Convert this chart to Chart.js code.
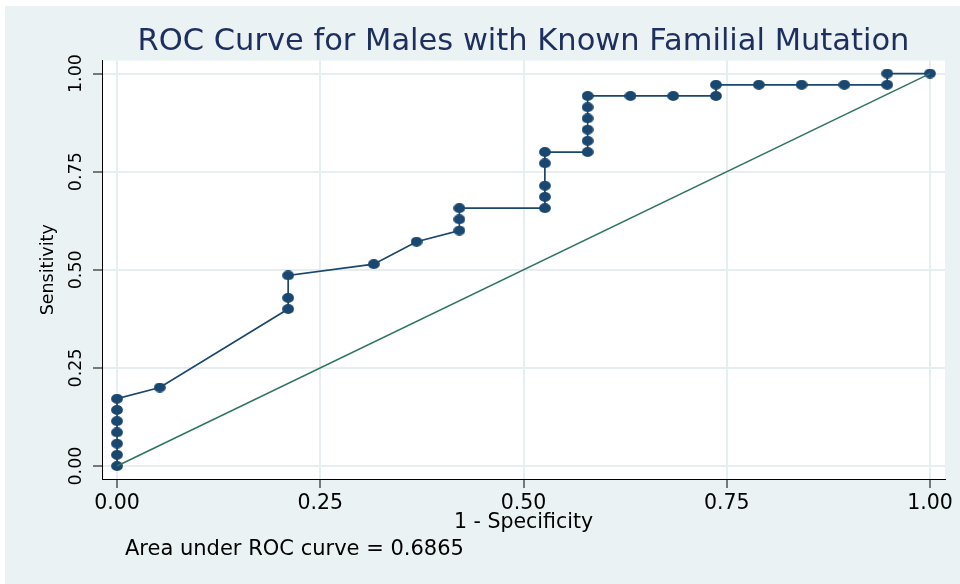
<!DOCTYPE html>
<html>
<head>
<meta charset="utf-8">
<script src="https://cdn.jsdelivr.net/npm/chart.js@4/dist/chart.umd.min.js"></script>
<style>
  html, body { margin: 0; padding: 0; background: #eaf2f3; }
  canvas { display: block; }
</style>
</head>
<body>
<canvas id="c" width="960" height="584"></canvas>
<script>
// ---- data ----
const fpr = [0, 0, 0, 0, 0, 0, 0, 0.0526, 0.2105, 0.2105, 0.2105, 0.3158, 0.3684,
  0.4211, 0.4211, 0.4211, 0.5263, 0.5263, 0.5263, 0.5263, 0.5263,
  0.5789, 0.5789, 0.5789, 0.5789, 0.5789, 0.5789, 0.6316, 0.6842,
  0.7368, 0.7368, 0.7895, 0.8421, 0.8947, 0.9474, 0.9474, 1];
const sensitivity = [0, 0.0286, 0.0571, 0.0857, 0.1143, 0.1429, 0.1714, 0.2, 0.4, 0.4286, 0.4857,
  0.5143, 0.5714, 0.6, 0.6286, 0.6571, 0.6571, 0.6857, 0.7143, 0.7714, 0.8,
  0.8, 0.8286, 0.8571, 0.8857, 0.9143, 0.9429, 0.9429, 0.9429,
  0.9429, 0.9714, 0.9714, 0.9714, 0.9714, 0.9714, 1, 1];
const refX = [0, 1];
const refY = [0, 1];
const tickValues = [0, 0.25, 0.5, 0.75, 1];
const tickLabels = ['0.00', '0.25', '0.50', '0.75', '1.00'];
const titleText = 'ROC Curve for Males with Known Familial Mutation';
const xTitle = '1 - Specificity';
const yTitle = 'Sensitivity';
const noteText = 'Area under ROC curve = 0.6865';

const rocPoints = fpr.map((x, i) => ({ x: x, y: sensitivity[i] }));
const refPoints = refX.map((x, i) => ({ x: x, y: refY[i] }));

const FONT = 'DejaVu Sans';
const NAVY = '#1a476f';

// slightly wide elliptical marker, like the reference
const marker = document.createElement('canvas');
marker.width = 12; marker.height = 10;
(function () {
  const m = marker.getContext('2d');
  m.fillStyle = NAVY;
  m.beginPath();
  m.ellipse(6, 5, 5.9, 5, 0, 0, Math.PI * 2);
  m.fill();
})();

const bgPlugin = {
  id: 'bg',
  beforeDraw(chart) {
    const { ctx, chartArea: a } = chart;
    ctx.save();
    ctx.fillStyle = '#eaf2f3';
    ctx.fillRect(0, 0, chart.width, chart.height);
    ctx.fillStyle = '#ffffff';
    ctx.fillRect(0, 0, chart.width, 6);
    ctx.fillRect(0, 0, 5, chart.height);
    ctx.fillRect(a.left, a.top, a.right - a.left, a.bottom - a.top);
    ctx.restore();
  },
  afterDraw(chart) {
    const { ctx } = chart;
    const ys = chart.scales.y;
    ctx.save();
    ctx.fillStyle = '#000000';
    ctx.font = '17.5px "' + FONT + '"';
    ctx.textAlign = 'center';
    ctx.textBaseline = 'middle';
    tickValues.forEach((v, i) => {
      const py = ys.getPixelForValue(v);
      ctx.save();
      ctx.translate(76, py);
      ctx.rotate(-Math.PI / 2);
      ctx.fillText(tickLabels[i], 0, 0);
      ctx.restore();
    });
    ctx.font = '21px "' + FONT + '"';
    ctx.textAlign = 'left';
    ctx.fillText(noteText, 125, 550);
    ctx.restore();
  }
};

new Chart(document.getElementById('c'), {
  type: 'scatter',
  data: {
    datasets: [
      {
        label: 'Reference',
        data: refPoints,
        showLine: true,
        borderColor: '#2f7361',
        borderWidth: 1.5,
        pointRadius: 0,
        order: 0
      },
      {
        label: 'ROC',
        data: rocPoints,
        showLine: true,
        borderColor: NAVY,
        backgroundColor: NAVY,
        borderWidth: 1.7,
        pointRadius: 5,
        pointStyle: marker,
        order: 1
      }
    ]
  },
  plugins: [bgPlugin],
  options: {
    responsive: false,
    animation: false,
    devicePixelRatio: 1,
    layout: { padding: { left: 0, right: 15, top: 0, bottom: 0 } },
    plugins: {
      legend: { display: false },
      tooltip: { enabled: false },
      title: {
        display: true,
        text: titleText,
        fullSize: false,
        color: '#1d2f5f',
        font: { family: FONT, size: 30.5, weight: 'normal' },
        padding: { top: 24, bottom: 0 }
      }
    },
    scales: {
      x: {
        type: 'linear',
        min: -0.0185,
        max: 1.0185,
        afterBuildTicks(scale) { scale.ticks = tickValues.map(v => ({ value: v })); },
        afterFit(scale) { scale.height = 105; },
        ticks: {
          color: '#000',
          font: { family: FONT, size: 20.5 },
          padding: 3,
          maxRotation: 0,
          callback(v) { return tickLabels[tickValues.indexOf(v)]; }
        },
        grid: { color: '#e6eef0', lineWidth: 2, tickLength: 9, tickColor: '#000', tickWidth: 1 },
        border: { display: true, color: '#000', width: 1 },
        title: {
          display: true,
          text: xTitle,
          color: '#000',
          font: { family: FONT, size: 20.5 },
          padding: { top: 0, bottom: 49 }
        }
      },
      y: {
        type: 'linear',
        min: -0.033,
        max: 1.033,
        afterBuildTicks(scale) { scale.ticks = tickValues.map(v => ({ value: v })); },
        afterFit(scale) { scale.width = 102; },
        ticks: { display: false },
        grid: { color: '#e6eef0', lineWidth: 2, tickLength: 9, tickColor: '#000', tickWidth: 1 },
        border: { display: true, color: '#000', width: 1 },
        title: {
          display: true,
          text: yTitle,
          color: '#000',
          font: { family: FONT, size: 17.5 },
          padding: { top: 38, bottom: 0 }
        }
      }
    }
  }
});
</script>
</body>
</html>
